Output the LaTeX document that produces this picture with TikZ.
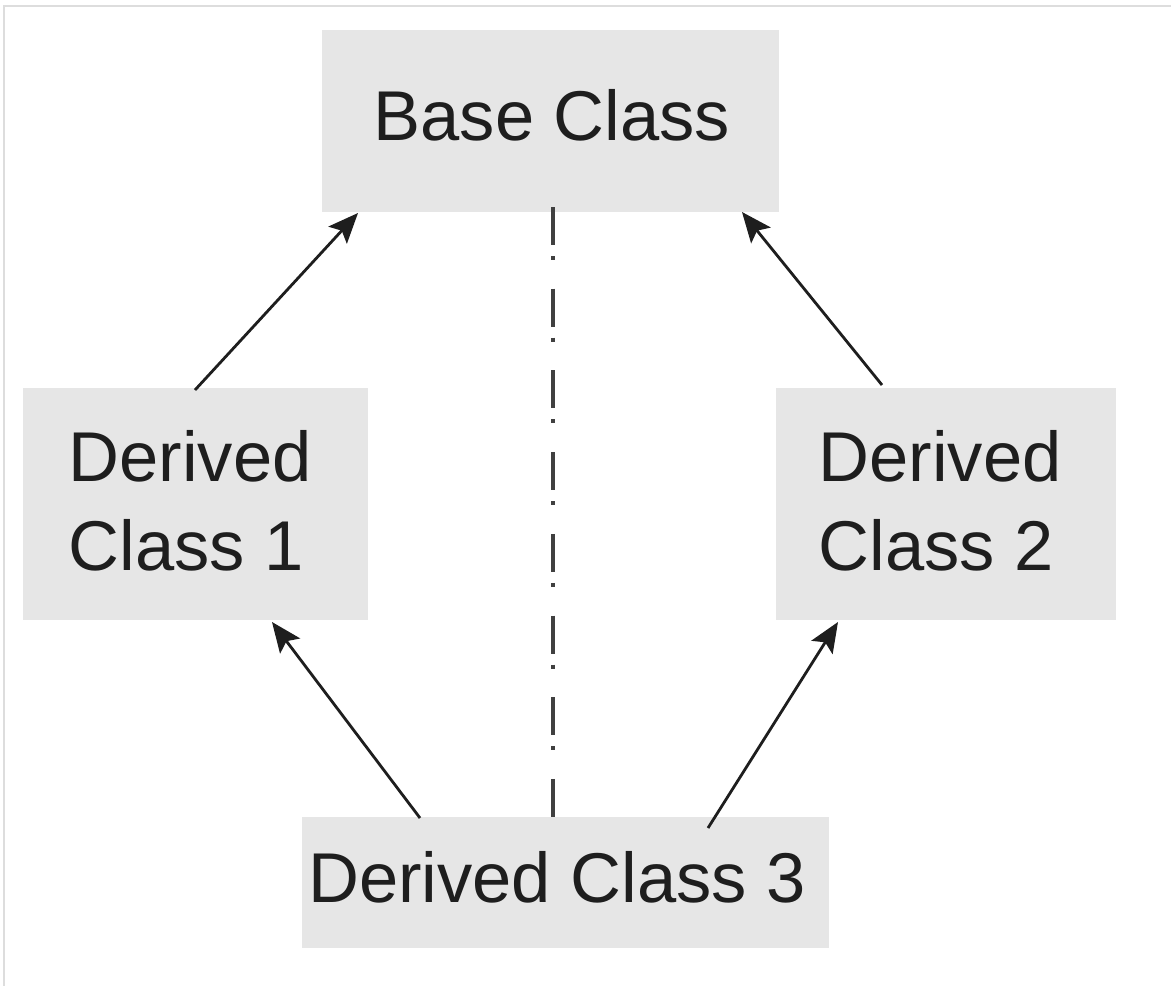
\documentclass[tikz,border=0pt]{standalone}
\usepackage{fontspec}
\setmainfont{Liberation Sans}
\usetikzlibrary{arrows.meta}
\definecolor{boxgray}{HTML}{E6E6E6}
\definecolor{ink}{HTML}{1E1E1E}
\definecolor{framegray}{HTML}{DDDDDD}
\tikzset{
  classbox/.style={draw=none, fill=boxgray, inner sep=0pt, anchor=north west},
  lbl/.style={inner sep=0pt, text=ink, font=\fontsize{70.5}{89}\selectfont},
  onelbl/.style={lbl, text height=50.5pt, text depth=0pt},
  inherit/.style={draw=ink, line width=2.8pt, -{Stealth[length=30pt,width=25pt,inset=6pt]}},
  axis/.style={draw=ink!85, line width=3.2pt, dash pattern=on 38pt off 11pt on 4pt off 28.7pt}
}
\begin{document}
\begin{tikzpicture}[x=1pt,y=-1pt]
\useasboundingbox (0,0) rectangle (1171,986);
\fill[white] (0,0) rectangle (1171,986);
% frame lines
\draw[framegray, line width=2pt] (4,986) -- (4,6) -- (1171,6);
% boxes
\node[classbox, minimum width=457pt, minimum height=182pt] (base) at (322,30) {};
\node[classbox, minimum width=345pt, minimum height=232pt] (d1) at (23,388) {};
\node[classbox, minimum width=340pt, minimum height=232pt] (d2) at (776,388) {};
\node[classbox, minimum width=527pt, minimum height=131pt] (d3) at (302,817) {};
% labels
\node[onelbl] (tbase) at (552,115) {Base Class};
\node[lbl, align=left] (td1) at (190,501) {Derived\\Class 1};
\node[lbl, align=left] (td2) at (940,501) {Derived\\Class 2};
\node[onelbl] (td3) at (557,877) {Derived Class 3};
% connector end points
\coordinate (s1) at (195,390);
\coordinate (e1) at (358,213);
\coordinate (s2) at (882,385);
\coordinate (e2) at (742,212);
\coordinate (s3) at (420,818);
\coordinate (e3) at (272,622);
\coordinate (s4) at (708,828);
\coordinate (e4) at (838,622);
\coordinate (ax1) at (553,207);
\coordinate (ax2) at (553,826);
\draw[inherit] (s1) -- (e1);
\draw[inherit] (s2) -- (e2);
\draw[inherit] (s3) -- (e3);
\draw[inherit] (s4) -- (e4);
\draw[axis] (ax1) -- (ax2);
\end{tikzpicture}
\end{document}
